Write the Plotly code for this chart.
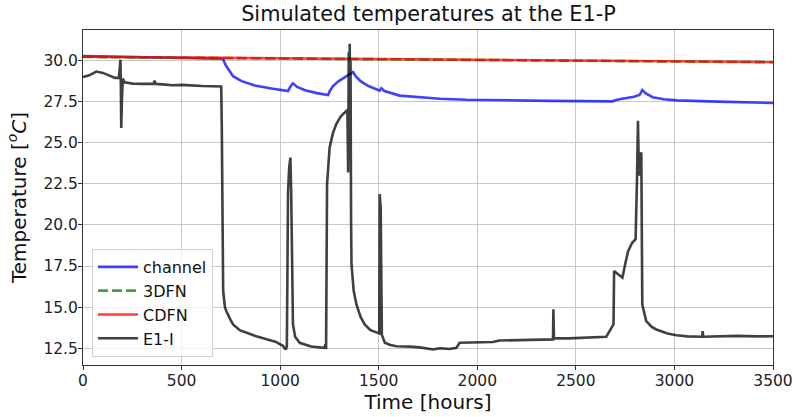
import plotly.graph_objects as go

# ---- data ----
channel_t = [0, 100, 300, 500, 704, 710, 725, 745, 761, 805, 871, 956, 1040, 1054, 1065, 1086, 1127, 1187, 1243,
             1252, 1268, 1297, 1338, 1370, 1383, 1408, 1448, 1505, 1513, 1529, 1606, 1709, 1810, 1946, 2111, 2368,
             2687, 2705, 2735, 2795, 2824, 2837, 2855, 2890, 2946, 3011, 3217, 3500]
channel_v = [30.28, 30.25, 30.2, 30.16, 30.12, 30.08, 29.7, 29.3, 29.05, 28.75, 28.48, 28.3, 28.15, 28.45, 28.62,
             28.4, 28.2, 28.02, 27.9, 28.15, 28.45, 28.75, 29.05, 29.3, 29.05, 28.75, 28.45, 28.17, 28.32, 28.15,
             27.87, 27.76, 27.68, 27.62, 27.58, 27.55, 27.52, 27.6, 27.68, 27.8, 27.92, 28.2, 28.0, 27.77, 27.65,
             27.58, 27.5, 27.42]

dfn3_t = [0, 1000, 2000, 3000, 3500]
dfn3_v = [30.22, 30.13, 30.04, 29.95, 29.9]

cdfn_t = [0, 1000, 2000, 3000, 3500]
cdfn_v = [30.23, 30.14, 30.05, 29.96, 29.91]

e1i_t = [0, 31, 68, 101, 132, 162, 182, 187, 190, 192, 194, 197, 202, 211, 252, 303, 358, 363, 368, 403, 453,
         504, 554, 604, 654, 701, 704, 707, 711, 720, 727, 745, 761, 795, 829, 875, 931, 976, 1014, 1028, 1034,
         1040, 1046, 1052, 1056, 1061, 1065, 1076, 1099, 1157, 1226, 1229, 1233, 1238, 1251, 1268, 1285, 1307,
         1336, 1341, 1345, 1348, 1350, 1353, 1355, 1357, 1360, 1362, 1373, 1387, 1408, 1429, 1458, 1488, 1503,
         1505, 1510, 1516, 1531, 1559, 1590, 1659, 1709, 1776, 1810, 1860, 1894, 1910, 2011, 2079, 2113, 2212,
         2313, 2384, 2386, 2389, 2463, 2520, 2614, 2654, 2671, 2691, 2694, 2713, 2736, 2750, 2765, 2785, 2803,
         2810, 2815, 2820, 2824, 2832, 2837, 2857, 2885, 2908, 2965, 3010, 3066, 3141, 3143, 3146, 3213, 3317,
         3418, 3500]
e1i_v = [29.0, 29.1, 29.33, 29.25, 29.1, 28.95, 28.95, 29.6, 30.05, 28.5, 25.9, 27.5, 28.9, 28.68, 28.6, 28.58,
         28.58, 28.78, 28.58, 28.55, 28.5, 28.52, 28.47, 28.45, 28.44, 28.42, 26.0, 20.0, 16.0, 15.0, 14.76, 14.3,
         13.95, 13.6, 13.44, 13.25, 13.04, 12.9, 12.65, 12.42, 12.6, 22.0, 23.5, 24.1, 22.0, 16.0, 13.95, 13.2,
         12.83, 12.6, 12.52, 12.75, 12.45, 22.48, 24.72, 25.6, 26.14, 26.6, 26.95, 27.0, 23.19, 30.5, 24.0, 31.02,
         25.0, 30.0, 20.0, 17.6, 16.0, 15.16, 14.4, 13.95, 13.6, 13.44, 13.4, 21.87, 21.0, 13.3, 12.83, 12.7,
         12.62, 12.6, 12.55, 12.42, 12.5, 12.45, 12.52, 12.83, 12.88, 12.88, 12.97, 13.0, 13.03, 13.04, 14.87,
         13.1, 13.1, 13.13, 13.18, 13.2, 13.54, 13.95, 17.2, 16.99, 16.79, 17.6, 18.41, 18.9, 19.13, 22.68, 26.34,
         23.0, 24.21, 24.41, 15.16, 14.15, 13.8, 13.64, 13.4, 13.29, 13.22, 13.2, 13.54, 13.2, 13.23, 13.25,
         13.22, 13.23]

x_ticks = [0, 500, 1000, 1500, 2000, 2500, 3000, 3500]
y_ticks = [12.5, 15.0, 17.5, 20.0, 22.5, 25.0, 27.5, 30.0]

# ---- figure ----
fig = go.Figure()
fig.add_trace(go.Scatter(x=channel_t, y=channel_v, mode="lines", name="channel",
                         line=dict(color="rgba(0,0,255,0.75)", width=2.6)))
fig.add_trace(go.Scatter(x=dfn3_t, y=dfn3_v, mode="lines", name="3DFN",
                         line=dict(color="rgba(0,128,0,0.75)", width=2.6, dash="10px,4px")))
fig.add_trace(go.Scatter(x=cdfn_t, y=cdfn_v, mode="lines", name="CDFN",
                         line=dict(color="rgba(255,0,0,0.75)", width=2.6)))
fig.add_trace(go.Scatter(x=e1i_t, y=e1i_v, mode="lines", name="E1-I",
                         line=dict(color="rgba(0,0,0,0.75)", width=2.6)))

axis_common = dict(showline=True, linecolor="#333333", linewidth=1, mirror=True,
                   ticks="outside", ticklen=4, tickcolor="#333333",
                   showgrid=True, gridcolor="#c8c8c8", gridwidth=1, zeroline=False,
                   automargin=False, ticklabeloverflow="allow",
                   tickfont=dict(family="DejaVu Sans", size=15.5, color="#222222"))

fig.update_layout(
    width=793, height=417,
    margin=dict(l=83, r=20, t=30, b=52),
    paper_bgcolor="white", plot_bgcolor="white",
    title=dict(text="Simulated temperatures at the E1-P", x=0.5403, xanchor="center",
               y=0.966, yanchor="middle",
               font=dict(family="DejaVu Sans", size=20.8, color="#111111")),
    xaxis=dict(range=[0, 3500], tickvals=x_ticks, ticktext=[str(v) for v in x_ticks],
               ticklabelstandoff=-3,
               title=dict(text="Time [hours]", font=dict(family="DejaVu Sans", size=20, color="#111111"),
                          standoff=2),
               **axis_common),
    yaxis=dict(range=[11.48, 31.86], tickvals=y_ticks, ticktext=[f"{v:.1f}" for v in y_ticks],
               ticklabelstandoff=-3,
               title=dict(text="Temperature [<sup><i>o</i></sup><i>C</i>]",
                          font=dict(family="DejaVu Sans", size=20, color="#111111"), standoff=11),
               **axis_common),
    legend=dict(x=0.013, y=0.024, xanchor="left", yanchor="bottom",
                bgcolor="rgba(255,255,255,0.8)", bordercolor="#d0d0d0", borderwidth=1,
                font=dict(family="DejaVu Sans", size=16, color="#111111"),
                tracegroupgap=0, itemwidth=40),
    showlegend=True,
)

# remove the default 8px body margin so the figure sits at the page's top-left corner
fig.write_html("out.html", config={"displayModeBar": False},
               post_script="document.body.style.margin='0';")
